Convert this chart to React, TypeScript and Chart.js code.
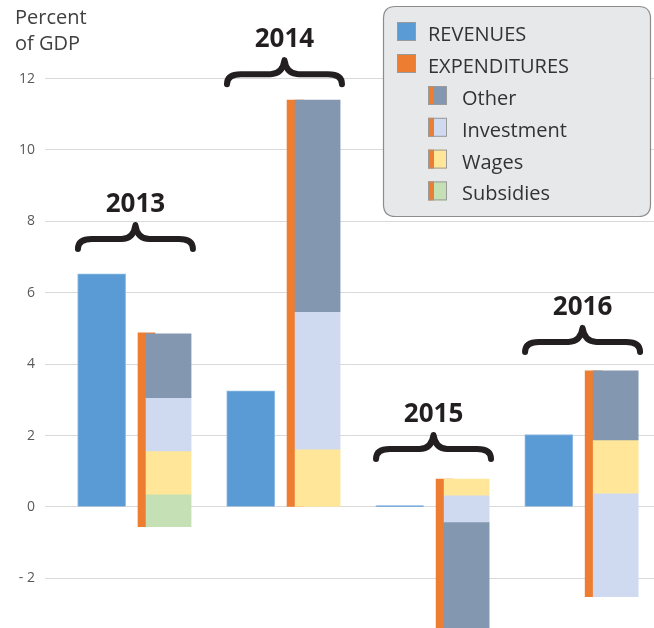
import React, { useEffect, useRef } from 'react';
import { Chart, registerables } from 'chart.js';

Chart.register(...registerables);

// ---- data ----
const years = ['2013', '2014', '2015', '2016'];
const revenues = [6.53, 3.25, 0.04, 2.03];
const expenditureTotal: [number, number][] = [[-0.55, 4.88], [0, 11.4], [-3.6, 0.78], [-2.51, 3.81]];
const otherRange: ([number, number] | null)[] = [[3.06, 4.85], [5.47, 11.4], [-3.6, -0.44], [1.88, 3.81]];
const investmentRange: ([number, number] | null)[] = [[1.57, 3.06], [1.62, 5.47], [-0.44, 0.31], [-2.51, 0.37]];
const wagesRange: ([number, number] | null)[] = [[0.36, 1.57], [0, 1.62], [0.31, 0.78], [0.37, 1.88]];
const subsidiesRange: ([number, number] | null)[] = [[-0.55, 0.36], null, null, null];
const yTicks = [-2, 0, 2, 4, 6, 8, 10, 12];
const yTickLabels = ['- 2', '0', '2', '4', '6', '8', '10', '12'];
const braceLevel = [7.98, 12.6, 2.1, 5.1];
const legendMain = ['REVENUES', 'EXPENDITURES'];
const legendSub = ['Other', 'Investment', 'Wages', 'Subsidies'];

const C_REV = '#5b9bd5';
const C_EXP = '#ed7d31';
const C_OTHER = '#8497b0';
const C_INV = '#cfdaf0';
const C_WAGE = '#ffe699';
const C_SUB = '#c5e0b4';
const FONT = '"Open Sans", "DejaVu Sans", sans-serif';

function drawBrace(ctx: CanvasRenderingContext2D, cx: number, top: number, w: number) {
  const ty = top + 3;
  const l = cx - w / 2 + 3;
  const r = cx + w / 2 - 3;
  const ym = ty + 14;
  const yb = ty + 24;
  ctx.save();
  ctx.beginPath();
  ctx.moveTo(l, yb);
  ctx.quadraticCurveTo(l, ym, l + 14, ym);
  ctx.lineTo(cx - 14, ym);
  ctx.quadraticCurveTo(cx - 2, ym, cx, ty);
  ctx.quadraticCurveTo(cx + 2, ym, cx + 14, ym);
  ctx.lineTo(r - 14, ym);
  ctx.quadraticCurveTo(r, ym, r, yb);
  ctx.lineWidth = 6;
  ctx.lineCap = 'round';
  ctx.lineJoin = 'round';
  ctx.strokeStyle = '#231f20';
  ctx.stroke();
  ctx.restore();
}

function roundRect(ctx: CanvasRenderingContext2D, x: number, y: number, w: number, h: number, r: number) {
  ctx.beginPath();
  ctx.moveTo(x + r, y);
  ctx.lineTo(x + w - r, y);
  ctx.quadraticCurveTo(x + w, y, x + w, y + r);
  ctx.lineTo(x + w, y + h - r);
  ctx.quadraticCurveTo(x + w, y + h, x + w - r, y + h);
  ctx.lineTo(x + r, y + h);
  ctx.quadraticCurveTo(x, y + h, x, y + h - r);
  ctx.lineTo(x, y + r);
  ctx.quadraticCurveTo(x, y, x + r, y);
  ctx.closePath();
}

const decorPlugin = {
  id: 'decor',
  afterDraw(chart: any) {
    const ctx: CanvasRenderingContext2D = chart.ctx;
    const xs = chart.scales.x;
    const ys = chart.scales.y;
    ctx.save();
    // axis title
    ctx.fillStyle = '#404040';
    ctx.font = `20px ${FONT}`;
    ctx.textAlign = 'left';
    ctx.textBaseline = 'alphabetic';
    ctx.fillText('Percent', 15, 24);
    ctx.fillText('of GDP', 15, 50);

    // braces and year labels
    years.forEach((y, i) => {
      const cx = xs.getPixelForValue(i) + 1;
      const top = ys.getPixelForValue(braceLevel[i]);
      drawBrace(ctx, cx, top, 121);
      ctx.fillStyle = '#231f20';
      ctx.font = `bold 26px ${FONT}`;
      ctx.textAlign = 'center';
      ctx.fillText(y, cx, top - 10);
    });

    // legend box
    roundRect(ctx, 383.5, 6.5, 267, 210, 12);
    ctx.fillStyle = '#e7e8ea';
    ctx.fill();
    ctx.lineWidth = 1.2;
    ctx.strokeStyle = '#8c8c8c';
    ctx.stroke();

    ctx.textAlign = 'left';
    ctx.font = `20px ${FONT}`;
    const mainColors = [C_REV, C_EXP];
    legendMain.forEach((t, k) => {
      const base = 41 + k * 32;
      ctx.fillStyle = mainColors[k];
      ctx.fillRect(397, base - 19, 19, 19);
      ctx.strokeStyle = '#9a9a9a';
      ctx.lineWidth = 1;
      ctx.strokeRect(397.5, base - 18.5, 18, 18);
      ctx.fillStyle = '#333333';
      ctx.fillText(t, 428, base);
    });
    const subColors = [C_OTHER, C_INV, C_WAGE, C_SUB];
    legendSub.forEach((t, k) => {
      const base = 105 + k * 31.8;
      ctx.fillStyle = subColors[k];
      ctx.fillRect(428, base - 19, 19, 19);
      ctx.fillStyle = C_EXP;
      ctx.fillRect(428, base - 19, 6, 19);
      ctx.strokeStyle = '#9a9a9a';
      ctx.lineWidth = 1;
      ctx.strokeRect(428.5, base - 18.5, 18, 18);
      ctx.fillStyle = '#333333';
      ctx.fillText(t, 462, base);
    });
    ctx.restore();
  },
};

const REV_OFF = -0.22;
const STACK_OFF = 0.229;
const ORANGE_OFF = 0.081;

function rangeData(ranges: ([number, number] | null)[], off: number) {
  const out: any[] = [];
  ranges.forEach((r, i) => {
    if (r) out.push({ x: i + off, y: r });
  });
  return out;
}

export default function App() {
  const ref = useRef<HTMLCanvasElement>(null);
  useEffect(() => {
    const canvas = ref.current!;
    const common = { type: 'bar' as const, grouped: false, borderWidth: 0 };
    const chart = new Chart(canvas, {
      type: 'bar',
      data: {
        datasets: [
          {
            ...common,
            label: 'REVENUES',
            data: revenues.map((v, i) => ({ x: i + REV_OFF, y: v })),
            backgroundColor: C_REV,
            borderColor: '#8fbbe4',
            borderWidth: 1,
            barThickness: 48,
            order: 1,
          },
          { ...common, label: 'Other', data: rangeData(otherRange, STACK_OFF), backgroundColor: C_OTHER, barThickness: 45, order: 1 },
          { ...common, label: 'Investment', data: rangeData(investmentRange, STACK_OFF), backgroundColor: C_INV, barThickness: 45, order: 1 },
          { ...common, label: 'Wages', data: rangeData(wagesRange, STACK_OFF), backgroundColor: C_WAGE, barThickness: 45, order: 1 },
          { ...common, label: 'Subsidies', data: rangeData(subsidiesRange, STACK_OFF), backgroundColor: C_SUB, barThickness: 45, order: 1 },
          { ...common, label: 'EXPENDITURES', data: rangeData(expenditureTotal, ORANGE_OFF), backgroundColor: C_EXP, barThickness: 17, order: 2 },
        ] as any,
      },
      options: {
        responsive: false,
        animation: false,
        layout: { padding: { top: 10, left: 0, right: 0, bottom: 0 } },
        plugins: { legend: { display: false }, tooltip: { enabled: false } },
        scales: {
          x: {
            type: 'linear',
            min: -0.6,
            max: 3.486,
            offset: false,
            display: false,
          },
          y: {
            type: 'linear',
            min: -3.39,
            max: 13.92,
            afterFit: (s: any) => {
              s.width = 45;
              s.paddingTop = 0;
              s.paddingBottom = 0;
            },
            afterBuildTicks: (s: any) => {
              s.ticks = yTicks.map((v) => ({ value: v }));
            },
            ticks: {
              padding: 10,
              color: '#595959',
              font: { family: FONT, size: 14 },
              callback: (v: any) => {
                const k = yTicks.indexOf(Number(v));
                return k >= 0 ? yTickLabels[k] : '';
              },
            },
            grid: { color: '#d9d9d9', lineWidth: 1, drawTicks: false },
            border: { display: false },
          },
        },
      } as any,
      plugins: [decorPlugin],
    });
    return () => chart.destroy();
  }, []);
  return (
    <div style={{ position: 'absolute', left: 0, top: 0, width: 654, height: 628 }}>
      <canvas ref={ref} width={654} height={628} style={{ display: 'block' }} />
    </div>
  );
}
